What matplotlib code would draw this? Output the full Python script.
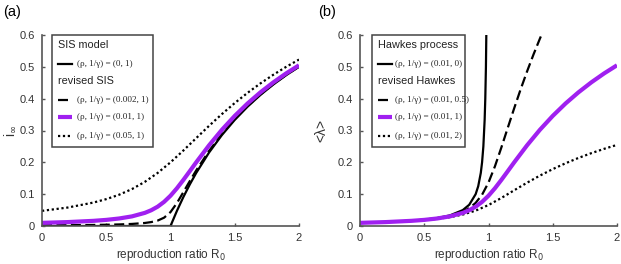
import matplotlib
matplotlib.use("Agg")
import matplotlib.pyplot as plt
from matplotlib.lines import Line2D
from matplotlib.patches import Rectangle

# ---------------- data ----------------
# Panel (a): steady-state prevalence i_inf vs R0
r0_a = [0, 0.2, 0.4, 0.5, 0.6, 0.7, 0.8, 0.85, 0.9, 0.95, 1.0, 1.05, 1.1, 1.15,
        1.2, 1.3, 1.4, 1.5, 1.6, 1.7, 1.8, 1.9, 2.0]
sis_x = [0, 0.5, 1.0, 1.05, 1.1, 1.15, 1.2, 1.3, 1.4, 1.5, 1.6, 1.7, 1.8, 1.9, 2.0]
sis_y = [0, 0, 0, 0.0476, 0.0909, 0.1304, 0.1667, 0.2308, 0.2857, 0.3333, 0.375,
         0.4118, 0.4444, 0.4737, 0.5]
rev_0002 = [0.002, 0.0025, 0.0033, 0.004, 0.0049, 0.0065, 0.0095, 0.0123, 0.017,
            0.0261, 0.0437, 0.0721, 0.1062, 0.141, 0.1745, 0.2358, 0.2892, 0.336,
            0.3771, 0.4134, 0.4458, 0.4749, 0.501]
rev_001 = [0.0099, 0.0123, 0.0162, 0.0192, 0.0236, 0.0302, 0.0412, 0.0495, 0.0607,
           0.0758, 0.0951, 0.1185, 0.1447, 0.1722, 0.2, 0.2534, 0.3022, 0.3459,
           0.385, 0.4199, 0.4512, 0.4794, 0.5049]
r0_c = [0, 0.2, 0.4, 0.5, 0.6, 0.7, 0.8, 0.9, 1.0, 1.1, 1.2, 1.3, 1.4, 1.5, 1.6,
        1.7, 1.8, 1.9, 2.0]
rev_005 = [0.0476, 0.058, 0.0736, 0.0844, 0.0982, 0.116, 0.1386, 0.1667, 0.2,
           0.2371, 0.276, 0.3146, 0.3516, 0.3863, 0.4184, 0.448, 0.4751, 0.5, 0.5228]

# Panel (b): mean intensity <lambda> vs R0
hawkes_x = [0, 0.2, 0.4, 0.5, 0.6, 0.7, 0.8, 0.85, 0.9, 0.92, 0.94, 0.95, 0.96,
            0.97, 0.975, 0.98, 0.985]
hawkes_y = [0.01, 0.0125, 0.0167, 0.02, 0.025, 0.0333, 0.05, 0.0667, 0.1, 0.125,
            0.1667, 0.2, 0.25, 0.3333, 0.4, 0.5, 0.6667]
hk05_x = [0, 0.2, 0.4, 0.5, 0.6, 0.7, 0.8, 0.85, 0.9, 0.95, 1.0, 1.05, 1.1, 1.15,
          1.2, 1.25, 1.3, 1.35, 1.4, 1.45]
hk05_y = [0.00995, 0.0124, 0.0164, 0.0196, 0.0243, 0.0316, 0.0449, 0.0559, 0.0726,
          0.0983, 0.1365, 0.1874, 0.2465, 0.3085, 0.37, 0.4293, 0.4855, 0.5386,
          0.5886, 0.6355]
hk1_y = rev_001
hk2_y = [0.0098, 0.0121, 0.0158, 0.0186, 0.0224, 0.0279, 0.036, 0.0483, 0.0659,
         0.088, 0.1122, 0.136, 0.1583, 0.1787, 0.1971, 0.2138, 0.2288, 0.2424, 0.2548]

xticks = [0, 0.5, 1, 1.5, 2]
xticklabels = ["0", "0.5", "1", "1.5", "2"]
yticks = [0, 0.1, 0.2, 0.3, 0.4, 0.5, 0.6]
yticklabels = ["0", "0.1", "0.2", "0.3", "0.4", "0.5", "0.6"]

legend_a = ["(\u03c1, 1/\u03b3) = (0, 1)", "(\u03c1, 1/\u03b3) = (0.002, 1)",
            "(\u03c1, 1/\u03b3) = (0.01, 1)", "(\u03c1, 1/\u03b3) = (0.05, 1)"]
legend_b = ["(\u03c1, 1/\u03b3) = (0.01, 0)", "(\u03c1, 1/\u03b3) = (0.01, 0.5)",
            "(\u03c1, 1/\u03b3) = (0.01, 1)", "(\u03c1, 1/\u03b3) = (0.01, 2)"]

# ---------------- figure ----------------
W, H = 621, 264
fig = plt.figure(figsize=(W / 100, H / 100), dpi=100)
SANS = ["Liberation Sans", "DejaVu Sans"]
SERIF = ["Liberation Serif", "DejaVu Serif"]
PURPLE = "#a020f0"
SPINE = "#555555"

def make_axes(x0):
    ax = fig.add_axes([x0 / W, (H - 226) / H, 257 / W, 191 / H])
    ax.set_xlim(0, 2)
    ax.set_ylim(0, 0.6)
    for s in ("top", "right"):
        ax.spines[s].set_visible(False)
    for s in ("left", "bottom"):
        ax.spines[s].set_color(SPINE)
        ax.spines[s].set_linewidth(1.2)
    ax.set_xticks(xticks)
    ax.set_xticklabels(xticklabels, family=SANS, fontsize=8, color="#333333")
    ax.set_yticks(yticks)
    ax.set_yticklabels(yticklabels, family=SANS, fontsize=8, color="#333333")
    ax.tick_params(direction="in", length=2.5, width=1, color=SPINE, pad=5)
    ax.set_xlabel("reproduction ratio R$_0$", family=SANS, fontsize=8.5,
                  color="#333333", labelpad=3)
    return ax

def px2ax(x0, px, py):
    return (px - x0) / 257, (226 - py) / 191

def draw_legend(ax, x0, box, heads, labels, styles, hx, tx):
    bx0, by0 = px2ax(x0, box[0], box[3])
    bx1, by1 = px2ax(x0, box[1], box[2])
    ax.add_patch(Rectangle((bx0, by0), bx1 - bx0, by1 - by0, transform=ax.transAxes,
                           facecolor="white", edgecolor="#444444", lw=1.1,
                           zorder=5, clip_on=False))
    for (txt, py) in heads:
        xa, ya = px2ax(x0, hx[0], py)
        ax.text(xa, ya, txt, transform=ax.transAxes, family=SANS, fontsize=7.8,
                va="center", ha="left", color="#222222", zorder=6)
    rows = [64, 100, 117, 136]
    for lab, st, py in zip(labels, styles, rows):
        xa0, ya = px2ax(x0, hx[0], py)
        xa1, _ = px2ax(x0, hx[1], py)
        ax.add_line(Line2D([xa0, xa1], [ya, ya], transform=ax.transAxes,
                           zorder=6, clip_on=False, **st))
        xt, _ = px2ax(x0, tx, py)
        ax.text(xt, ya, lab, transform=ax.transAxes, family=SERIF, fontsize=6.6,
                va="center", ha="left", color="#222222", zorder=6)

st_solid = dict(color="black", lw=1.6, ls="-")
st_dash = dict(color="black", lw=1.6, ls=(0, (4.5, 2)))
st_purple = dict(color=PURPLE, lw=3.0, ls="-", solid_capstyle="butt")
st_dot = dict(color="black", lw=1.6, ls=(0, (1, 1.2)))

# Panel (a)
axa = make_axes(42)
axa.plot(r0_c, rev_005, **st_dot)
axa.plot(r0_a, rev_0002, **st_dash)
axa.plot(sis_x, sis_y, **st_solid)
axa.plot(r0_a, rev_001, **st_purple)
axa.set_ylabel("i$_{\\infty}$", family=SANS, fontsize=10, color="#333333")
axa.yaxis.set_label_coords(-24 / 257, 0.5)
draw_legend(axa, 42, (52, 153, 35, 147),
            [("SIS model", 45), ("revised SIS", 81)], legend_a,
            [st_solid, st_dash, st_purple, st_dot], (58, 72), 77)

# Panel (b)
axb = make_axes(360)
axb.plot(r0_c, hk2_y, **st_dot)
axb.plot(hk05_x, hk05_y, **st_dash)
axb.plot(hawkes_x, hawkes_y, **st_solid)
axb.plot(r0_a, hk1_y, **st_purple)
axb.set_ylabel("<\u03bb>", family=SANS, fontsize=10, color="#333333")
axb.yaxis.set_label_coords(-32 / 257, 0.5)
draw_legend(axb, 360, (372, 465, 35, 147),
            [("Hawkes process", 45), ("revised Hawkes", 81)], legend_b,
            [st_solid, st_dash, st_purple, st_dot], (378, 392), 395)

fig.text(3 / W, 1 - 12 / H, "(a)", family=SANS, fontsize=10.5, va="center", ha="left")
fig.text(318 / W, 1 - 12 / H, "(b)", family=SANS, fontsize=10.5, va="center", ha="left")

fig.savefig("out.png", dpi=100)
